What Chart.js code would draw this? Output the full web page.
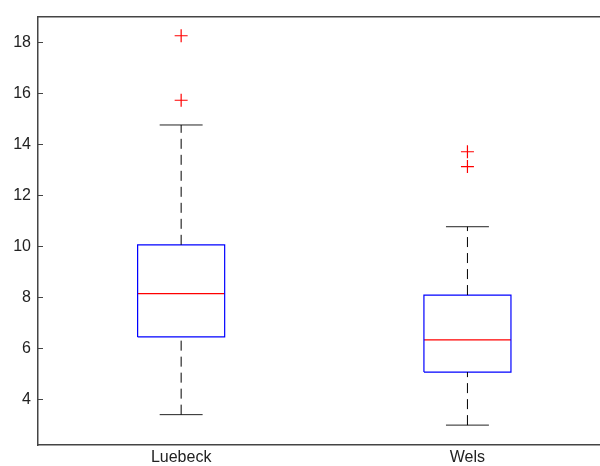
<!DOCTYPE html>
<html>
<head>
<meta charset="utf-8">
<script src="https://cdn.jsdelivr.net/npm/chart.js@4.4.1/dist/chart.umd.min.js"></script>
<style>
  html, body { margin: 0; padding: 0; background: #fff; overflow: hidden; }
  #wrap { width: 600px; height: 466px; }
</style>
</head>
<body>
<div id="wrap"><canvas id="box-chart" width="600" height="466"></canvas></div>
<script>
// Box plot values
const categories = ['Luebeck', 'Wels'];
const positions = [1, 2];
const whiskerLow = [3.39, 2.98];
const quartile1 = [6.44, 5.06];
const medians = [8.14, 6.32];
const quartile3 = [10.05, 8.08];
const whiskerHigh = [14.75, 10.76];
const outliers = [[18.25, 15.72], [13.70, 13.12]];
const yTicks = [4, 6, 8, 10, 12, 14, 16, 18];

const BOX_HALF = 0.152;
const CAP_HALF = 0.075;
const FRAME = '#444';

function seg(x1, y1, x2, y2) {
    return [{ x: x1, y: y1 }, { x: x2, y: y2 }];
}

const datasets = [];

positions.forEach((x, i) => {
    // whiskers (dashed)
    datasets.push({
        data: seg(x, quartile3[i], x, whiskerHigh[i]),
        showLine: true, borderColor: '#000', borderWidth: 1,
        borderDash: [10, 6], pointRadius: 0
    });
    datasets.push({
        data: seg(x, whiskerLow[i], x, quartile1[i]),
        showLine: true, borderColor: '#000', borderWidth: 1,
        borderDash: [10, 6], pointRadius: 0
    });
    // caps
    datasets.push({
        data: seg(x - CAP_HALF, whiskerHigh[i], x + CAP_HALF, whiskerHigh[i]),
        showLine: true, borderColor: '#222', borderWidth: 1, pointRadius: 0
    });
    datasets.push({
        data: seg(x - CAP_HALF, whiskerLow[i], x + CAP_HALF, whiskerLow[i]),
        showLine: true, borderColor: '#222', borderWidth: 1, pointRadius: 0
    });
    // box
    datasets.push({
        data: [
            { x: x - BOX_HALF, y: quartile1[i] },
            { x: x + BOX_HALF, y: quartile1[i] },
            { x: x + BOX_HALF, y: quartile3[i] },
            { x: x - BOX_HALF, y: quartile3[i] },
            { x: x - BOX_HALF, y: quartile1[i] }
        ],
        showLine: true, borderColor: '#0000ff', borderWidth: 1.2, pointRadius: 0
    });
    // median
    datasets.push({
        data: seg(x - BOX_HALF, medians[i], x + BOX_HALF, medians[i]),
        showLine: true, borderColor: '#ff0000', borderWidth: 1.2, pointRadius: 0
    });
    // outliers
    datasets.push({
        data: outliers[i].map(v => ({ x: x, y: v })),
        showLine: false, pointStyle: 'cross', pointRadius: 6.5,
        borderColor: '#ff0000', borderWidth: 1.2
    });
});

// MATLAB-style inward ticks on the left axis
const inwardTicks = {
    id: 'inwardTicks',
    afterDatasetsDraw(chart) {
        const { ctx, chartArea, scales } = chart;
        ctx.save();
        ctx.strokeStyle = FRAME;
        ctx.lineWidth = 1;
        yTicks.forEach(v => {
            const y = Math.round(scales.y.getPixelForValue(v)) + 0.5;
            ctx.beginPath();
            ctx.moveTo(chartArea.left, y);
            ctx.lineTo(chartArea.left + 5, y);
            ctx.stroke();
        });
        ctx.restore();
    }
};

new Chart(document.getElementById('box-chart').getContext('2d'), {
    type: 'scatter',
    data: { datasets: datasets },
    options: {
        responsive: false,
        animation: false,
        layout: { autoPadding: false, padding: { top: 16, right: 0, left: 0, bottom: 0 } },
        plugins: { legend: { display: false }, tooltip: { enabled: false } },
        scales: {
            x: {
                type: 'linear',
                min: 0.5,
                max: 2.463,
                afterBuildTicks: scale => {
                    scale.ticks = positions.map(v => ({ value: v }));
                },
                afterFit: scale => { scale.height = 21; },
                grid: { display: false, drawTicks: false },
                border: { display: true, color: FRAME, width: 1.5 },
                ticks: {
                    padding: 3,
                    color: '#222',
                    font: { family: 'Liberation Sans', size: 16 },
                    callback: (v) => categories[positions.indexOf(v)] || ''
                }
            },
            xTop: {
                type: 'linear',
                position: 'top',
                min: 0.5,
                max: 2.463,
                afterFit: scale => { scale.height = 0; },
                grid: { display: false, drawTicks: false },
                border: { display: true, color: FRAME, width: 1.5 },
                ticks: { display: false }
            },
            y: {
                type: 'linear',
                min: 2.2,
                max: 19,
                afterBuildTicks: scale => {
                    scale.ticks = yTicks.map(v => ({ value: v }));
                },
                afterFit: scale => { scale.width = 38; },
                grid: { display: false, drawTicks: false },
                border: { display: true, color: FRAME, width: 1.5 },
                ticks: {
                    padding: 7,
                    color: '#222',
                    font: { family: 'Liberation Sans', size: 16 }
                }
            }
        }
    },
    plugins: [inwardTicks]
});
</script>
</body>
</html>
